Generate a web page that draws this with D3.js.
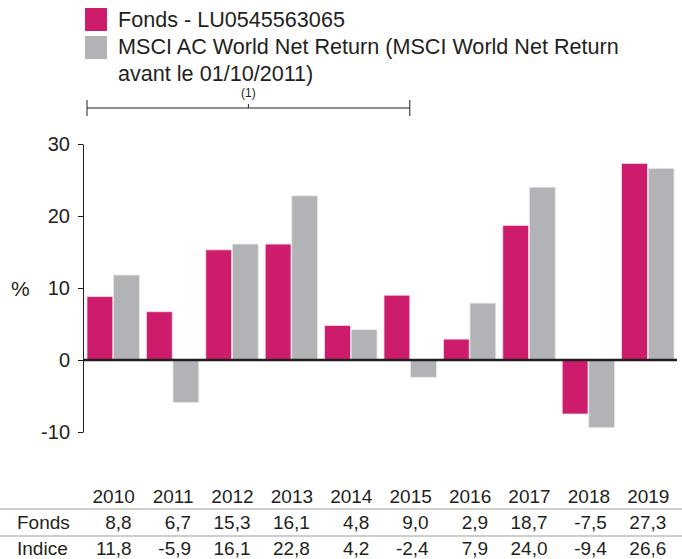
<!DOCTYPE html>
<html>
<head>
<meta charset="utf-8">
<script src="https://cdn.jsdelivr.net/npm/d3@7"></script>
<style>
  body { margin: 0; background: #fff; }
  svg { font-family: "Liberation Sans", Arial, sans-serif; }
</style>
</head>
<body>
<svg id="chart" width="682" height="559"></svg>
<script>
// --- Data ---
const years = ["2010", "2011", "2012", "2013", "2014", "2015", "2016", "2017", "2018", "2019"];
const fonds = [8.8, 6.7, 15.3, 16.1, 4.8, 9.0, 2.9, 18.7, -7.5, 27.3];
const indice = [11.8, -5.9, 16.1, 22.8, 4.2, -2.4, 7.9, 24.0, -9.4, 26.6];
const yTicks = [-10, 0, 10, 20, 30];
const seriesNames = ["Fonds - LU0545563065", "MSCI AC World Net Return (MSCI World Net Return", "avant le 01/10/2011)"];
const rowLabels = ["Fonds", "Indice"];

const pink = "#cc1c6b";
const grey = "#b2b3b7";
const ink = "#231f20";

const svg = d3.select("#chart");

// --- Scales ---
const x = d3.scaleBand().domain(years).range([83, 677]);
const sub = d3.scaleBand().domain(["f", "i"]).range([4, x.bandwidth() - 3]).paddingInner(0.03);
const y = d3.scaleLinear().domain([-10, 30]).range([432, 144]);

// --- Bars ---
const groups = svg.append("g")
    .selectAll("g")
    .data(years)
    .join("g")
    .attr("transform", d => `translate(${x(d)},0)`);

groups.append("rect")
    .attr("x", sub("f"))
    .attr("width", sub.bandwidth())
    .attr("y", (d, i) => y(Math.max(0, fonds[i])))
    .attr("height", (d, i) => Math.abs(y(fonds[i]) - y(0)))
    .attr("fill", pink)
    .attr("stroke", "#f4dbe6")
    .attr("stroke-width", 0.8);

groups.append("rect")
    .attr("x", sub("i"))
    .attr("width", sub.bandwidth())
    .attr("y", (d, i) => y(Math.max(0, indice[i])))
    .attr("height", (d, i) => Math.abs(y(indice[i]) - y(0)))
    .attr("fill", grey)
    .attr("stroke", "#e6e6e8")
    .attr("stroke-width", 0.8);

// --- Axis ---
const yAxis = svg.append("g")
    .attr("transform", "translate(83,0)")
    .call(d3.axisLeft(y).tickValues(yTicks).tickFormat(d => String(d))
        .tickSize(5).tickPadding(8).tickSizeOuter(0));
yAxis.select(".domain").attr("stroke", ink).attr("stroke-width", 1);
yAxis.selectAll(".tick line").attr("stroke", ink);
yAxis.selectAll(".tick text")
    .attr("font-size", 20)
    .attr("fill", ink)
    .attr("font-family", "Liberation Sans, Arial, sans-serif");

// zero line
svg.append("line")
    .attr("x1", 83).attr("x2", 677)
    .attr("y1", y(0)).attr("y2", y(0))
    .attr("stroke", ink)
    .attr("stroke-width", 2.5);

svg.append("text")
    .attr("x", 11).attr("y", y(10) + 8)
    .attr("font-size", 21)
    .attr("fill", ink)
    .text("%");

// --- Legend ---
const legend = svg.append("g");
legend.append("rect").attr("x", 85).attr("y", 8).attr("width", 22).attr("height", 23).attr("fill", pink);
legend.append("rect").attr("x", 85).attr("y", 36).attr("width", 22).attr("height", 23).attr("fill", grey);
legend.selectAll("text")
    .data(seriesNames)
    .join("text")
    .attr("x", 118)
    .attr("y", (d, i) => 27 + i * 27)
    .attr("font-size", 21.6)
    .attr("fill", ink)
    .text(d => d);

// --- Bracket (1) ---
const bx0 = x("2010") + sub("f");
const bx1 = x("2015") + sub("f") + sub.bandwidth();
const by = 108;
const bracket = svg.append("g").attr("stroke", ink).attr("stroke-width", 1);
bracket.append("line").attr("x1", bx0).attr("x2", bx1).attr("y1", by).attr("y2", by);
bracket.append("line").attr("x1", bx0).attr("x2", bx0).attr("y1", by - 8).attr("y2", by + 8);
bracket.append("line").attr("x1", bx1).attr("x2", bx1).attr("y1", by - 8).attr("y2", by + 8);
bracket.append("line").attr("x1", (bx0 + bx1) / 2).attr("x2", (bx0 + bx1) / 2).attr("y1", by).attr("y2", by - 4);
svg.append("text")
    .attr("x", (bx0 + bx1) / 2).attr("y", by - 11)
    .attr("text-anchor", "middle")
    .attr("font-size", 12)
    .attr("fill", ink)
    .text("(1)");

// --- Table ---
const table = svg.append("g").attr("font-size", 19).attr("fill", ink);
table.selectAll(".yr")
    .data(years)
    .join("text")
    .attr("class", "yr")
    .attr("x", d => x(d) + x.bandwidth() / 2 + 1)
    .attr("y", 503)
    .attr("text-anchor", "middle")
    .text(d => d);

[509, 536].forEach(ly => {
    svg.append("line")
        .attr("x1", 0).attr("x2", 682)
        .attr("y1", ly).attr("y2", ly)
        .attr("stroke", "#9d9d9f")
        .attr("stroke-width", 1);
});

const fmt = v => d3.format(".1f")(v).replace(".", ",").replace("−", "-");
[fonds, indice].forEach((row, r) => {
    table.append("text")
        .attr("x", 17)
        .attr("y", 529 + r * 26)
        .text(rowLabels[r]);
    table.selectAll(".v" + r)
        .data(row)
        .join("text")
        .attr("class", "v" + r)
        .attr("x", (d, i) => x(years[i]) + x.bandwidth() / 2 + 19)
        .attr("y", 529 + r * 26)
        .attr("text-anchor", "end")
        .text(d => fmt(d));
});
</script>
</body>
</html>
